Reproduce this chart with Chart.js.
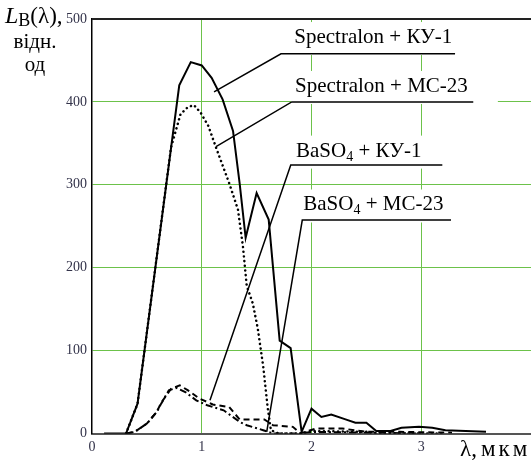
<!DOCTYPE html>
<html>
<head>
<meta charset="utf-8">
<script src="https://cdn.jsdelivr.net/npm/chart.js@4/dist/chart.umd.min.js"></script>
<style>
  body { margin: 0; background: #fff; }
  #wrap { width: 531px; height: 466px; }
</style>
</head>
<body>
<div id="wrap"><canvas id="spectrumChart" width="531" height="466"></canvas></div>
<script>
// wavelength (мкм) and relative brightness for each sample
const specKuX = [0.11, 0.31, 0.415, 0.795, 0.90, 1.0, 1.09, 1.19, 1.285, 1.345, 1.40, 1.50, 1.61, 1.69, 1.71, 1.81, 1.91, 2.0, 2.09, 2.18, 2.31, 2.40, 2.50, 2.59, 2.72, 2.82, 2.98, 3.10, 3.22, 3.59];
const specKuY = [0, 0, 36, 420, 448, 444, 429, 403, 365, 302, 236, 290, 258, 141, 112, 103, 2, 30, 20, 23, 17, 13, 13, 3, 3, 7, 8, 7, 4, 2];

const specMcX = [0.31, 0.415, 0.72, 0.806, 0.875, 0.93, 0.99, 1.06, 1.13, 1.25, 1.33, 1.375, 1.41, 1.465, 1.51, 1.56, 1.60, 1.63, 1.70, 1.90, 2.0, 2.5, 2.6, 3.2];
const specMcY = [0, 36, 345, 385, 394, 396, 387, 371, 345, 302, 270, 226, 178, 157, 127, 81, 32, 4, 0, 0, 3, 2, 0, 0];

const baKuX = [0.315, 0.39, 0.50, 0.59, 0.63, 0.72, 0.80, 0.875, 0.98, 1.07, 1.10, 1.25, 1.345, 1.57, 1.65, 1.83, 1.90, 2.04, 2.28, 2.50, 2.80, 3.28];
const baKuY = [0, 2, 12, 26, 37, 54, 58, 52, 42, 37, 35, 32, 17, 17, 10, 8, 0, 6, 6, 2, 2, 1];

const baMcX = [0.315, 0.39, 0.50, 0.59, 0.63, 0.70, 0.77, 0.85, 0.95, 1.05, 1.20, 1.345, 1.41, 1.56, 1.65, 1.90, 2.0, 2.5, 3.0];
const baMcY = [0, 2, 12, 26, 36, 52, 55, 50, 40, 34, 28, 14, 10, 4, 0, 0, 2, 1, 0];

const xTicks = [0, 1, 2, 3];
const yTicks = [0, 100, 200, 300, 400, 500];

const FONT = 'Liberation Serif';
const GREEN = '#6cc24a';

Chart.defaults.font.family = FONT;

// callouts: [text parts], text anchor, leader polyline (all in data units)
const callouts = [
  { parts: [['Spectralon + КУ-1']], at: [1.843, 471], line: [[1.112, 412], [1.722, 458], [3.308, 458]] },
  { parts: [['Spectralon + MC-23']], at: [1.850, 412], line: [[1.130, 346], [1.820, 400], [3.474, 400]] },
  { parts: [['BaSO'], ['4', true], [' + КУ-1']], at: [1.859, 334], line: [[1.075, 40], [1.811, 324], [3.192, 324]] },
  { parts: [['BaSO'], ['4', true], [' + MC-23']], at: [1.925, 269], line: [[1.592, 2], [1.916, 257.5], [3.271, 257.5]] }
];

function toPoints(xs, ys) {
  return xs.map((x, i) => ({ x: x, y: ys[i] }));
}

function drawParts(ctx, parts, x, y, size) {
  parts.forEach(p => {
    const sub = p[1];
    ctx.font = (sub ? Math.round(size * 0.68) : size) + 'px ' + FONT;
    ctx.fillText(p[0], x, sub ? y + 4 : y);
    x += ctx.measureText(p[0]).width;
  });
  return x;
}

function partsWidth(ctx, parts, size) {
  let w = 0;
  parts.forEach(p => {
    ctx.font = (p[1] ? Math.round(size * 0.68) : size) + 'px ' + FONT;
    w += ctx.measureText(p[0]).width;
  });
  return w;
}

const calloutPlugin = {
  id: 'callouts',
  beforeDatasetsDraw(chart) {
    // white boxes behind the labels hide the grid
    const ctx = chart.ctx, sx = chart.scales.x, sy = chart.scales.y;
    ctx.save();
    ctx.fillStyle = '#fff';
    callouts.forEach(c => {
      const x = sx.getPixelForValue(c.at[0]);
      const y = sy.getPixelForValue(c.at[1]);
      const w = partsWidth(ctx, c.parts, 21);
      ctx.fillRect(x - 4, y - 21, w + 34, 33);
    });
    ctx.restore();
  },
  afterDatasetsDraw(chart) {
    const ctx = chart.ctx, sx = chart.scales.x, sy = chart.scales.y;
    const area = chart.chartArea;
    ctx.save();

    // top frame line at 500
    ctx.fillStyle = '#222';
    ctx.fillRect(area.left, Math.round(area.top) - 1, area.right - area.left, 2);

    ctx.strokeStyle = '#000';
    ctx.lineWidth = 1.5;
    ctx.fillStyle = '#000';
    ctx.textBaseline = 'alphabetic';
    callouts.forEach(c => {
      ctx.beginPath();
      c.line.forEach((pt, i) => {
        const px = sx.getPixelForValue(pt[0]);
        const py = sy.getPixelForValue(pt[1]);
        if (i === 0) ctx.moveTo(px, py); else ctx.lineTo(px, py);
      });
      ctx.stroke();
      drawParts(ctx, c.parts, sx.getPixelForValue(c.at[0]), sy.getPixelForValue(c.at[1]), 21);
    });

    // axis titles
    ctx.font = 'italic 24px ' + FONT;
    ctx.fillText('L', 5, 23);
    let x = 5 + ctx.measureText('L').width;
    ctx.font = '18px ' + FONT;
    ctx.fillText('B', x, 26);
    x += ctx.measureText('B').width;
    ctx.font = '23px ' + FONT;
    ctx.fillText('(λ),', x, 23);
    ctx.font = '21px ' + FONT;
    ctx.textAlign = 'center';
    ctx.fillText('відн.', 35, 48);
    ctx.fillText('од', 35, 71);
    ctx.textAlign = 'left';
    ctx.font = '23px ' + FONT;
    ctx.fillText('λ,', 460, 456);
    ctx.letterSpacing = '3px';
    ctx.fillText('мкм', 481, 456);
    ctx.restore();
  }
};

const ctx = document.getElementById('spectrumChart').getContext('2d');

window.myChart = new Chart(ctx, {
  type: 'scatter',
  data: {
    datasets: [
      {
        label: 'Spectralon + КУ-1',
        data: toPoints(specKuX, specKuY),
        borderColor: '#000',
        borderWidth: 2
      },
      {
        label: 'Spectralon + MC-23',
        data: toPoints(specMcX, specMcY),
        borderColor: '#000',
        borderWidth: 2.5,
        borderDash: [0.1, 4.6],
        borderCapStyle: 'round'
      },
      {
        label: 'BaSO4 + КУ-1',
        data: toPoints(baKuX, baKuY),
        borderColor: '#000',
        borderWidth: 2,
        borderDash: [6, 4]
      },
      {
        label: 'BaSO4 + MC-23',
        data: toPoints(baMcX, baMcY),
        borderColor: '#000',
        borderWidth: 2,
        borderDash: [7, 3, 2, 3]
      }
    ].map(d => Object.assign(d, { showLine: true, pointRadius: 0, tension: 0, fill: false }))
  },
  options: {
    responsive: false,
    animation: false,
    layout: { padding: { top: 19, left: 0, right: 0, bottom: 0 } },
    plugins: {
      legend: { display: false },
      tooltip: { enabled: false }
    },
    scales: {
      x: {
        type: 'linear',
        min: 0,
        max: 4,
        afterFit: s => { s.height = 32.5; s.paddingLeft = 0; s.paddingRight = 0; },
        afterBuildTicks: s => { s.ticks = xTicks.concat([4]).map(v => ({ value: v })); },
        ticks: {
          padding: 5,
          color: '#33334a',
          font: { family: FONT, size: 14 },
          callback: v => (xTicks.includes(v) ? String(v) : '')
        },
        grid: {
          drawTicks: false,
          color: c => (c.tick && (c.tick.value === 0 || c.tick.value === 4) ? 'rgba(0,0,0,0)' : GREEN),
          lineWidth: 1
        },
        border: { color: '#555', width: 2 }
      },
      y: {
        type: 'linear',
        min: 0,
        max: 500,
        afterFit: s => { s.width = 92; },
        afterBuildTicks: s => { s.ticks = yTicks.map(v => ({ value: v })); },
        ticks: {
          padding: 5,
          color: '#33334a',
          font: { family: FONT, size: 14 }
        },
        grid: {
          drawTicks: false,
          color: c => (c.tick && (c.tick.value === 0 || c.tick.value === 500) ? 'rgba(0,0,0,0)' : GREEN),
          lineWidth: 1
        },
        border: { color: '#000', width: 1.5 }
      }
    }
  },
  plugins: [calloutPlugin]
});
</script>
</body>
</html>
